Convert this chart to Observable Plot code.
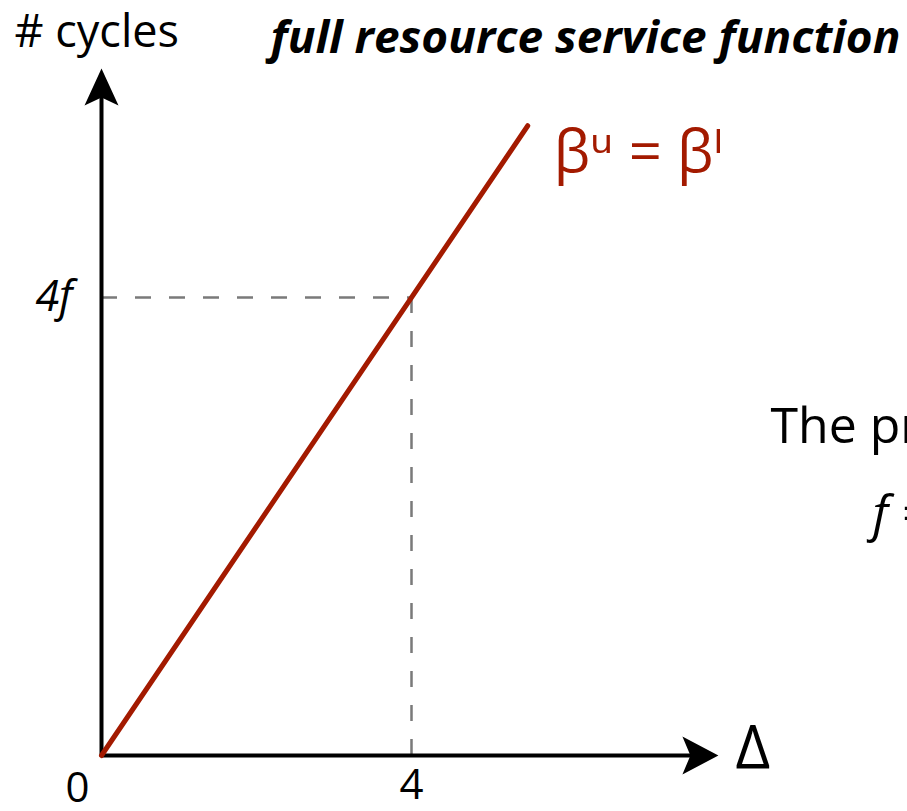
<!DOCTYPE html>
<html>
<head>
<meta charset="utf-8">
<script src="https://cdn.jsdelivr.net/npm/d3@7"></script>
<script src="https://cdn.jsdelivr.net/npm/@observablehq/plot@0.6"></script>
<style>
  html, body { margin: 0; padding: 0; background: #fff; }
  svg { overflow: hidden; }
</style>
</head>
<body>
<div id="chart"></div>
<script>
// ---- data ----
const serviceX = [0, 5.5];          // Δ
const serviceY = [0, 5.5];          // # cycles (in units of f)
const markX = 4;                    // Δ = 4
const markY = 4;                    // 4f
const xTickValues = [0, 4];
const xTickLabels = ["0", "4"];
const yTickValues = [4];
const yTickLabels = ["4f"];
const xAxisEnd = 7.96;
const yAxisEnd = 6.0;
const titleText = "full resource service function";
const yLabelText = "# cycles";
const xLabelText = "Δ";
const curveLabel = "βᵘ = βˡ";
const sideText1 = "The pr";
const sideText2 = "f =";

const serviceLine = serviceX.map((x, i) => ({x, y: serviceY[i]}));

const red = "#a31a00";
const font = "'Open Sans', 'DejaVu Sans', sans-serif";

const arrowUp = {draw(ctx) {
  ctx.moveTo(0, 0); ctx.lineTo(17, 37); ctx.lineTo(0, 29); ctx.lineTo(-17, 37); ctx.closePath();
}};
const arrowRight = {draw(ctx) {
  ctx.moveTo(0, 0); ctx.lineTo(-36, 19); ctx.lineTo(-28, 0); ctx.lineTo(-36, -19); ctx.closePath();
}};

const chart = Plot.plot({
  width: 907,
  height: 811,
  margin: 0,
  x: {domain: [0, 4], range: [101, 411], axis: null},
  y: {domain: [0, 4], range: [755, 297], axis: null},
  style: {fontFamily: font, background: "#fff"},
  marks: [
    // dashed guide lines
    Plot.ruleY([markY], {x1: 0, x2: markX, stroke: "#7a7a7a", strokeWidth: 2.5, strokeDasharray: "16,18"}),
    Plot.ruleX([markX], {y1: 0, y2: markY, stroke: "#7a7a7a", strokeWidth: 2.5, strokeDasharray: "16,18"}),
    // axes
    Plot.ruleX([0], {y1: 0, y2: yAxisEnd - 0.2, stroke: "black", strokeWidth: 4}),
    Plot.ruleY([0], {x1: 0, x2: xAxisEnd - 0.3, stroke: "black", strokeWidth: 4}),
    Plot.dot([{x: 0, y: yAxisEnd}], {x: "x", y: "y", symbol: arrowUp, fill: "black", stroke: null}),
    Plot.dot([{x: xAxisEnd, y: 0}], {x: "x", y: "y", symbol: arrowRight, fill: "black", stroke: null}),
    // service function
    Plot.line(serviceLine, {x: "x", y: "y", stroke: red, strokeWidth: 5}),
    // tick labels
    Plot.text([xTickValues[0]], {x: d => d, y: 0, text: () => xTickLabels[0], dx: -24, dy: 46, lineAnchor: "bottom", fontSize: 42, fill: "black"}),
    Plot.text([xTickValues[1]], {x: d => d, y: 0, text: () => xTickLabels[1], dy: 43, lineAnchor: "bottom", fontSize: 42, fill: "black"}),
    Plot.text(yTickValues, {x: 0, y: d => d, text: (d, i) => yTickLabels[i], dx: -29, dy: 13, textAnchor: "end", lineAnchor: "bottom", fontSize: 43, fontStyle: "italic", fill: "black"}),
    // axis labels
    Plot.text([yLabelText], {x: 0, y: 0, text: d => d, dx: -87, dy: -709, textAnchor: "start", lineAnchor: "bottom", fontSize: 45, fill: "black"}),
    Plot.text([xLabelText], {x: xAxisEnd, y: 0, text: d => d, dx: 17, dy: 12, textAnchor: "start", lineAnchor: "bottom", fontSize: 60, fill: "black"}),
    // title
    Plot.text([titleText], {x: 0, y: 0, text: d => d, dx: 169, dy: -703, textAnchor: "start", lineAnchor: "bottom", fontSize: 44, fontWeight: "bold", fontStyle: "italic", fill: "black"}),
    // curve label
    Plot.text([curveLabel], {x: serviceX[1], y: serviceY[1], text: d => d, dx: 26, dy: 46, textAnchor: "start", lineAnchor: "bottom", fontSize: 58, fill: red}),
    // side texts (cut off at the right edge, as in the source slide)
    Plot.text([sideText1], {x: 0, y: 0, text: d => d, dx: 669, dy: -313, textAnchor: "start", lineAnchor: "bottom", fontSize: 50, fill: "black"}),
    Plot.text([sideText2], {x: 0, y: 0, text: d => d, dx: 771, dy: -225, textAnchor: "start", lineAnchor: "bottom", fontSize: 50, fontStyle: "italic", fill: "black"})
  ]
});

// condense the title like the original condensed face
d3.select(chart).selectAll("text").filter(function() { return this.textContent === titleText; })
  .attr("textLength", 630).attr("lengthAdjust", "spacingAndGlyphs");

document.getElementById("chart").appendChild(chart);
</script>
</body>
</html>
